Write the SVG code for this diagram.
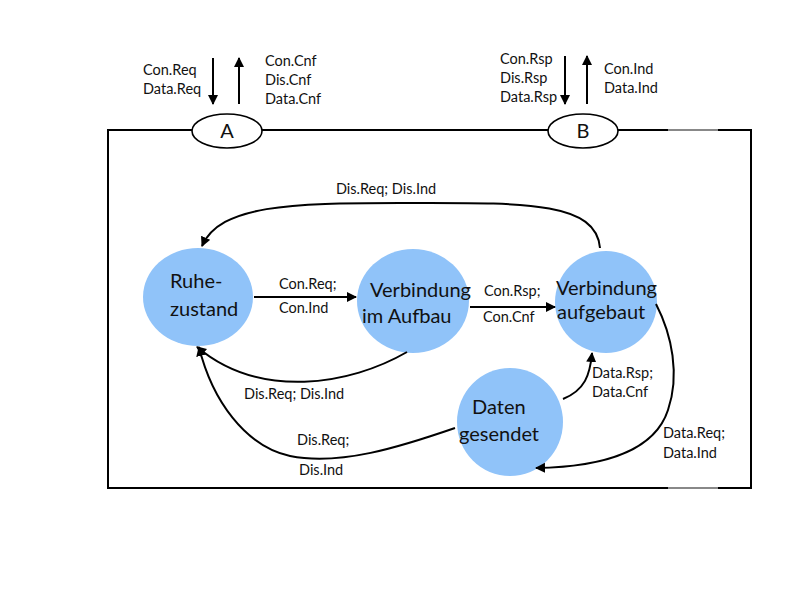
<svg xmlns="http://www.w3.org/2000/svg" width="800" height="600" viewBox="0 0 800 600">
<style>
.st{fill:#90c3f9;stroke:none}
.sl{font-family:Lato,"Noto Sans",sans-serif;font-size:20px;fill:#111}
.el{font-family:Lato,"Noto Sans",sans-serif;font-size:14.5px;fill:#111}
.ln{fill:none;stroke:#000;stroke-width:2}
.frame{fill:none;stroke:#000;stroke-width:2}
.port{fill:#fff;stroke:#000;stroke-width:1.6}
</style>
<defs>
<marker id="ah" markerWidth="11" markerHeight="11" refX="9" refY="5.5" orient="auto" markerUnits="userSpaceOnUse">
<path d="M0,0.5 L10,5.5 L0,10.5 Z" fill="#000"/>
</marker>
</defs>
<rect width="800" height="600" fill="#fff"/>
<g id="frame">
<polyline class="frame" points="192,130 108,130 108,488 751,488 751,130 618,130"/>
<line class="frame" x1="262" y1="130" x2="548" y2="130"/>
<line x1="668" y1="130" x2="718" y2="130" stroke="#888" stroke-width="2"/>
<line x1="668" y1="488" x2="718" y2="488" stroke="#888" stroke-width="2"/>
</g>
<g id="portA">
<ellipse class="port" cx="227" cy="131" rx="35" ry="17"/>
<text class="sl" x="227" y="138" text-anchor="middle">A</text>
</g>
<g id="portB">
<ellipse class="port" cx="583" cy="131" rx="35" ry="17"/>
<text class="sl" x="583" y="138" text-anchor="middle">B</text>
</g>
<g id="ruhezustand">
<ellipse class="st" cx="198" cy="297" rx="55" ry="49"/>
<text class="sl" x="170" y="288">Ruhe-</text>
<text class="sl" x="170" y="316">zustand</text>
</g>
<g id="aufbau">
<ellipse class="st" cx="413" cy="301" rx="56" ry="52"/>
<text class="sl" x="370" y="297">Verbindung</text>
<text class="sl" x="362" y="323">im Aufbau</text>
</g>
<g id="aufgebaut">
<ellipse class="st" cx="606" cy="302" rx="51" ry="51"/>
<text class="sl" x="556" y="295">Verbindung</text>
<text class="sl" x="557" y="319">aufgebaut</text>
</g>
<g id="daten">
<ellipse class="st" cx="510" cy="422" rx="53" ry="54"/>
<text class="sl" x="472" y="414" font-size="22">Daten</text>
<text class="sl" x="459" y="441" font-size="22">gesendet</text>
</g>
<g id="connectors">
<line class="ln" x1="213" y1="58" x2="213" y2="104" marker-end="url(#ah)"/>
<line class="ln" x1="239" y1="104" x2="239" y2="58" marker-end="url(#ah)"/>
<line class="ln" x1="565" y1="56" x2="565" y2="104" marker-end="url(#ah)"/>
<line class="ln" x1="587" y1="104" x2="587" y2="56" marker-end="url(#ah)"/>
<line class="ln" x1="254" y1="297" x2="356" y2="297" marker-end="url(#ah)"/>
<line class="ln" x1="470" y1="307" x2="555" y2="307" marker-end="url(#ah)"/>
<path class="ln" d="M600,248 C596,200 520,203 400,203 C290,203 220,205 202,246" marker-end="url(#ah)"/>
<path class="ln" d="M407,352 C350,385 260,400 197,347" marker-end="url(#ah)"/>
<path class="ln" d="M455,428 C400,447 340,466 290,456 C245,446 212,400 199,347" marker-end="url(#ah)"/>
<path class="ln" d="M563,399 C585,390 590,375 592,353" marker-end="url(#ah)"/>
<path class="ln" d="M656,304 C672,335 680,375 668,410 C655,450 605,467 536,468" marker-end="url(#ah)"/>
</g>
<g id="labels">
<text class="el" x="143" y="75">Con.Req</text>
<text class="el" x="143" y="94">Data.Req</text>
<text class="el" x="265" y="66">Con.Cnf</text>
<text class="el" x="265" y="85">Dis.Cnf</text>
<text class="el" x="265" y="104">Data.Cnf</text>
<text class="el" x="500" y="64">Con.Rsp</text>
<text class="el" x="500" y="83">Dis.Rsp</text>
<text class="el" x="500" y="102">Data.Rsp</text>
<text class="el" x="604" y="74">Con.Ind</text>
<text class="el" x="604" y="93">Data.Ind</text>
<text class="el" x="386" y="194" text-anchor="middle">Dis.Req; Dis.Ind</text>
<text class="el" x="279" y="289">Con.Req;</text>
<text class="el" x="279" y="313">Con.Ind</text>
<text class="el" x="484" y="296">Con.Rsp;</text>
<text class="el" x="483" y="322">Con.Cnf</text>
<text class="el" x="244" y="399">Dis.Req; Dis.Ind</text>
<text class="el" x="297" y="445" font-size="16.5">Dis.Req;</text>
<text class="el" x="299" y="475" font-size="16.5">Dis.Ind</text>
<text class="el" x="592" y="378">Data.Rsp;</text>
<text class="el" x="592" y="397">Data.Cnf</text>
<text class="el" x="663" y="438">Data.Req;</text>
<text class="el" x="663" y="458">Data.Ind</text>
</g>
</svg>
